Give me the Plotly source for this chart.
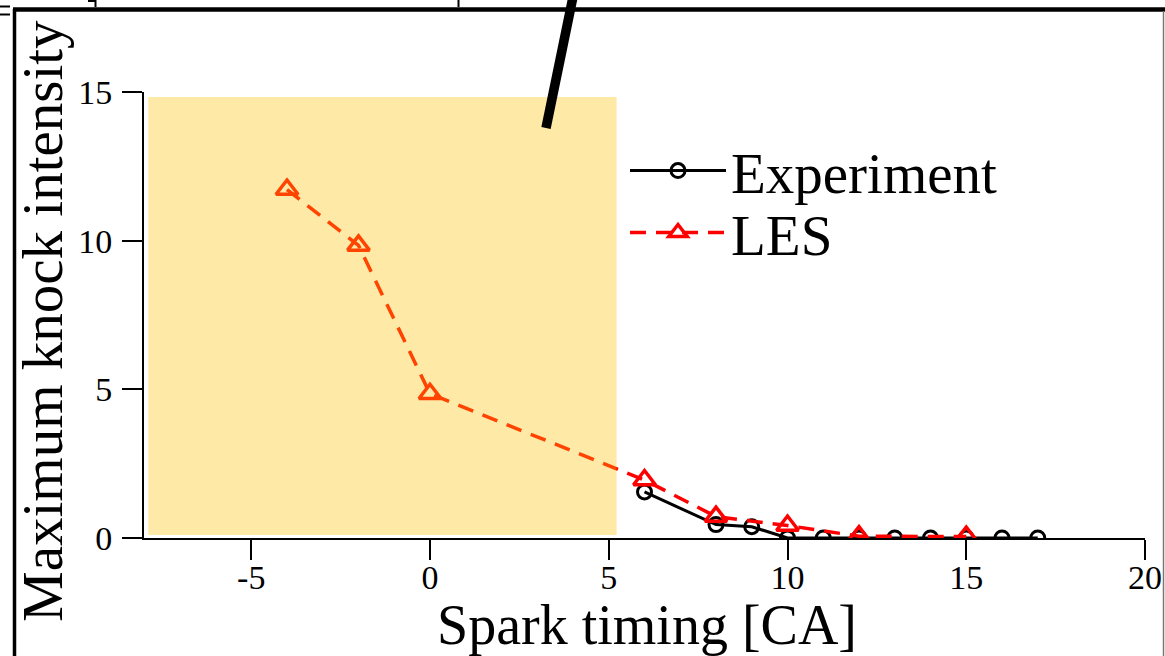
import plotly.graph_objects as go

# ---- data ----
exp_x = [6, 8, 9, 10, 11, 12, 13, 14, 15, 16, 17]
exp_y = [1.55, 0.45, 0.38, 0.0, 0.0, 0.0, 0.0, 0.0, 0.0, 0.0, 0.0]
les_x = [-4, -2, 0, 6, 8, 10, 12, 15]
les_y = [11.72, 9.84, 4.85, 1.95, 0.72, 0.42, 0.06, 0.05]

x_ticks = [-5, 0, 5, 10, 15, 20]
y_ticks = [0, 5, 10, 15]

W, H = 1165, 656
L, R, T, B = 144, 20, 92, 118
PW, PH = W - L - R, H - T - B

def px(xp):
    return (xp - L) / PW

def py(yp):
    return (H - B - yp) / PH

FONT = "Liberation Serif, Times New Roman, serif"

fig = go.Figure()
fig.add_trace(go.Scatter(
    x=exp_x, y=exp_y, name="Experiment", mode="lines+markers", legend="legend",
    line=dict(color="black", width=3),
    marker=dict(symbol="circle-open", size=14, color="black", line=dict(width=3)),
))
fig.add_trace(go.Scatter(
    x=les_x, y=les_y, name="LES", mode="lines+markers", legend="legend2",
    line=dict(color="#ff0000", width=3.5, dash="16px,10px"),
    marker=dict(symbol="triangle-up-open", size=19, color="#ff0000", line=dict(width=3.5)),
))

shapes = [
    # shaded region (drawn above, semi-transparent)
    dict(type="rect", xref="x", yref="y", x0=-7.88, x1=5.22, y0=0.1, y1=14.83,
         fillcolor="rgb(255,192,0)", opacity=0.35, line=dict(width=0), layer="above"),
    # thick diagonal pointer line
    dict(type="line", xref="paper", yref="paper", x0=px(574), y0=py(-8), x1=px(546), y1=py(128),
         line=dict(color="black", width=9.5), layer="above"),
    # frame lines (panel borders)
    dict(type="line", xref="paper", yref="paper", x0=px(13), y0=py(9.5), x1=px(1166), y1=py(9.5),
         line=dict(color="black", width=4.5)),
    dict(type="line", xref="paper", yref="paper", x0=px(14.5), y0=py(9), x1=px(14.5), y1=py(660),
         line=dict(color="black", width=3.5)),
    dict(type="line", xref="paper", yref="paper", x0=px(1163.5), y0=py(11), x1=px(1163.5), y1=py(660),
         line=dict(color="#777777", width=1.5)),
    dict(type="line", xref="paper", yref="paper", x0=px(95.5), y0=py(-2), x1=px(95.5), y1=py(7),
         line=dict(color="black", width=2)),
    dict(type="line", xref="paper", yref="paper", x0=px(88), y0=py(1), x1=px(96), y1=py(1),
         line=dict(color="black", width=2)),
    dict(type="line", xref="paper", yref="paper", x0=px(458.5), y0=py(-2), x1=px(458.5), y1=py(7),
         line=dict(color="black", width=2)),
    dict(type="line", xref="paper", yref="paper", x0=px(-2), y0=py(6.5), x1=px(10), y1=py(6.5),
         line=dict(color="black", width=2)),
    dict(type="line", xref="paper", yref="paper", x0=px(-2), y0=py(14.5), x1=px(10), y1=py(14.5),
         line=dict(color="black", width=2)),
]

annotations = [
    dict(text="Spark timing [CA]", xref="paper", yref="paper", x=px(647), y=py(624.5),
         xanchor="center", yanchor="middle", showarrow=False, borderpad=0,
         font=dict(family=FONT, size=56, color="black")),
    dict(text="Maximum knock intensity", xref="paper", yref="paper", x=px(42), y=py(321),
         xanchor="center", yanchor="middle", showarrow=False, textangle=-90, borderpad=0,
         font=dict(family=FONT, size=57, color="black")),
]

legend_common = dict(xanchor="left", yanchor="top",
                     font=dict(family=FONT, size=57, color="black"),
                     bgcolor="rgba(0,0,0,0)", itemwidth=96)

fig.update_layout(
    width=W, height=H,
    margin=dict(l=L, r=R, t=T, b=B, autoexpand=False),
    paper_bgcolor="white", plot_bgcolor="white",
    showlegend=True,
    legend=dict(x=px(625), y=py(127), **legend_common),
    legend2=dict(x=px(625), y=py(189), **legend_common),
    shapes=shapes, annotations=annotations,
    font=dict(family=FONT, color="black"),
)
fig.update_xaxes(range=[-8, 20], tickvals=x_ticks, ticktext=[str(v) for v in x_ticks],
                 showgrid=False, zeroline=False, showline=True, linecolor="black", linewidth=2,
                 ticks="outside", ticklen=20, tickwidth=2, tickcolor="black",
                 tickfont=dict(family=FONT, size=34, color="black"), ticklabelstandoff=-12)
fig.update_yaxes(range=[0, 15], tickvals=y_ticks, ticktext=[str(v) for v in y_ticks],
                 showgrid=False, zeroline=False, showline=True, linecolor="black", linewidth=2,
                 ticks="outside", ticklen=20, tickwidth=2, tickcolor="black",
                 tickfont=dict(family=FONT, size=34, color="black"), ticklabelstandoff=3)

fig.write_html("out.html")
